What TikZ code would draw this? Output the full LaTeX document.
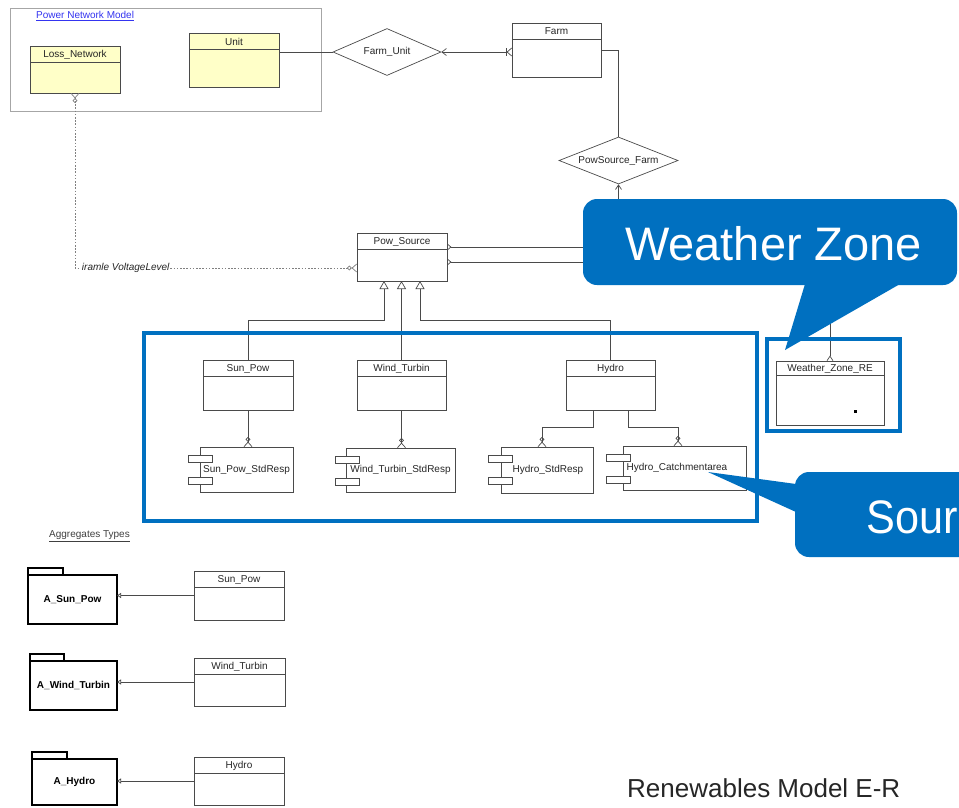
\documentclass[tikz,border=0pt]{standalone}
\usepackage{fontspec}
\setmainfont{Liberation Sans}
\usetikzlibrary{arrows.meta,shapes.geometric}
\definecolor{lgray}{HTML}{4A4A4A}
\definecolor{cblue}{HTML}{0070C0}
\definecolor{lyellow}{HTML}{FFFFC8}
\definecolor{pnblue}{HTML}{3434F0}
\newcommand\us{\textunderscore}
\tikzset{
  ln/.style={draw=lgray, line width=0.7pt},
  dotln/.style={draw=gray, line width=0.7pt, dash pattern=on 1.6pt off 1.6pt},
  lbl/.style={font=\fontsize{10}{12}\selectfont, text=black!85, inner sep=0pt},
  boxst/.style={draw=lgray, line width=0.7pt, inner sep=0pt, outer sep=0pt},
  pkgst/.style={draw=black, line width=1.4pt, inner sep=0pt, outer sep=0pt, fill=white},
  dia/.style={diamond, draw=lgray, line width=0.7pt, inner sep=0pt, aspect=2.3, font=\fontsize{10}{12}\selectfont, text=black!85, fill=white},
  zcrow/.style={-{Circle[open,length=4.5pt] Straight Barb[reversed,length=4.5pt,width=8pt]}},
  gentip/.style={-{Triangle[open,length=8pt,width=9pt]}},
  aggtip/.style={-{Triangle[open,length=4pt,width=5pt]}},
  callout/.style={font=\fontsize{47}{52}\selectfont, text=white, inner sep=0pt}
}
% name, x1, y1, x2, y2, divider y, label, fill
\newcommand\clsbox[8]{%
  \node[boxst, fill=#8, anchor=north west, minimum width={#4-#2}, minimum height={#5-#3}] (#1) at (#2,#3) {};
  \draw[ln] (#2,#6) -- (#4,#6);
  \node[lbl] (#1t) at ({(#2+#4)/2},{(#3+#6)/2+0.5}) {#7};}
% name, x1, y1, x2, y2, label, small-rect centre x, label centre x
\newcommand\compbox[8]{%
  \node[boxst, fill=white, anchor=north west, minimum width={#4-#2}, minimum height={#5-#3}] (#1) at (#2,#3) {};
  \node[boxst, fill=white, minimum width=24, minimum height=7] (#1a) at (#7,{#3+11.5}) {};
  \node[boxst, fill=white, minimum width=24, minimum height=7] (#1b) at (#7,{#3+33.5}) {};
  \node[lbl] (#1t) at (#8,{(#3+#5)/2}) {#6};}
% name, x1, body top, x2, bottom, tab right, label
\newcommand\pkgbox[7]{%
  \node[pkgst, anchor=south west, minimum width={#6-#2}, minimum height=7] (#1tab) at (#2,#3) {};
  \node[pkgst, anchor=north west, minimum width={#4-#2}, minimum height={#5-#3}] (#1) at (#2,#3) {};
  \node[lbl, font=\fontsize{10}{12}\selectfont\bfseries, text=black] (#1t) at (#1.center) {#7};}
\begin{document}
\begin{tikzpicture}[x=1pt,y=-1pt]
\useasboundingbox (0,0) rectangle (959,807);
\fill[white] (0,0) rectangle (959,807);

% Power Network Model frame
\node[draw=gray!70, line width=0.6pt, anchor=north west, minimum width=311, minimum height=103, inner sep=0pt] (pnm) at (10,8) {};
\node[lbl, text=pnblue, anchor=west] (pnmt) at (36,16) {\underline{Power Network Model}};

% class boxes
\clsbox{loss}{30}{46}{120}{93}{62}{Loss\us Network}{lyellow}
\clsbox{unit}{189}{33}{279}{87}{49}{Unit}{lyellow}
\clsbox{farm}{512}{23}{601}{77}{39}{Farm}{white}
\clsbox{pow}{357}{233}{447}{281}{249}{Pow\us Source}{white}
\clsbox{sun}{203}{360}{293}{410}{376}{Sun\us Pow}{white}
\clsbox{wt}{357}{360}{446}{410}{376}{Wind\us Turbin}{white}
\clsbox{hy}{566}{360}{655}{410}{376}{Hydro}{white}
\clsbox{wz}{776}{361}{884}{425}{375}{Weather\us Zone\us RE}{white}

% diamonds
\node[dia, minimum width=108, minimum height=47] (fu) at (387,52) {Farm\us Unit};
\node[dia, minimum width=119, minimum height=47] (psf) at (618.5,160.5) {PowSource\us Farm};

% component boxes
\compbox{sunr}{200}{447}{293}{492}{Sun\us Pow\us StdResp}{200.5}{246.5}
\compbox{wtr}{346}{448}{455}{492}{Wind\us Turbin\us StdResp}{347}{400.5}
\compbox{hsr}{501}{447}{593}{493}{Hydro\us StdResp}{500}{548}
\compbox{hcr}{623}{446}{746}{490}{Hydro\us Catchmentarea}{618}{677}

% connectors, top part
\draw[ln, {Bar[width=7pt]}-] (unit.east |- fu.west) -- (fu.west);
\draw[ln, {Straight Barb[reversed,length=4.5pt,width=8pt] Bar[width=8pt]}-{Straight Barb[length=4.5pt,width=7pt]}] (farm.west |- fu.east) -- (fu.east);
\draw[ln, {Bar[width=7pt]}-] (farm.east) -| (psf.north);
\draw[ln, {Straight Barb[reversed,length=3.5pt,width=6pt]}-{Straight Barb[length=4.5pt,width=6pt]}] ([yshift=10pt]pow.east) -| (psf.south);
\draw[ln, {Straight Barb[reversed,length=3.5pt,width=6pt]}-{Straight Barb[reversed,length=4.5pt,width=6pt]}] ([yshift=-5pt]pow.east) -| (wz.north);

% dotted link Loss_Network - Pow_Source
\draw[dotln, {Straight Barb[reversed,length=4.5pt,width=8pt] Circle[open,length=4.5pt]}-{Circle[open,length=4.5pt] Straight Barb[reversed,length=4.5pt,width=8pt]}]
  (loss.south) |- ([yshift=-11pt]pow.west)
  node[lbl, pos=0.51, anchor=west, fill=white, inner xsep=1pt, font=\fontsize{10}{12}\selectfont\itshape] (vl) {iramle VoltageLevel};

% generalisation
\draw[ln, gentip] (sun.north) -- ++(0,-40) -| ([xshift=-18pt]pow.south);
\draw[ln, gentip] (wt.north) -- (wt.north |- pow.south);
\draw[ln, gentip] (hy.north) -- ++(0,-40) -| ([xshift=18pt]pow.south);

% class to component
\draw[ln, zcrow] (sun.south) -- (sun.south |- sunr.north);
\draw[ln, zcrow] (wt.south) -- (wt.south |- wtr.north);
\draw[ln, zcrow] ([xshift=-17pt]hy.south) -- ++(0,17) -| ([xshift=-5pt]hsr.north);
\draw[ln, zcrow] ([xshift=18pt]hy.south) -- ++(0,17) -| ([xshift=-6.5pt]hcr.north);

% small mark in Weather_Zone_RE
\fill[black] (854,410) rectangle (857,413);

% Aggregates Types
\node[lbl, text=black!75, anchor=west] (aggt) at (49,536) {\underline{Aggregates Types}};
\pkgbox{asp}{28}{575}{117}{624}{63}{A\us Sun\us Pow}
\pkgbox{awt}{30}{661}{117}{710}{64}{A\us Wind\us Turbin}
\pkgbox{ahy}{32}{759}{117}{805}{67}{A\us Hydro}
\clsbox{sp2}{194}{571}{284}{620}{587}{Sun\us Pow}{white}
\clsbox{wt2}{194}{658}{285}{706}{674}{Wind\us Turbin}{white}
\clsbox{hy2}{194}{757}{284}{805}{773}{Hydro}{white}
\draw[ln, aggtip] (sp2.west) -- (asp.east |- sp2.west);
\draw[ln, aggtip] (wt2.west) -- (awt.east |- wt2.west);
\draw[ln, aggtip] (hy2.west) -- (ahy.east |- hy2.west);

% blue highlight frames
\draw[cblue, line width=4pt] (144,333) rectangle (757,521);
\draw[cblue, line width=4pt] (767,339) rectangle (900,431);

% callouts
\begin{scope}
\clip (0,0) rectangle (959,807);
\fill[cblue, rounded corners=14pt] (583,199) rectangle (957,285);
\fill[cblue] (805,284) -- (785,350) -- (900,284) -- cycle;
\node[callout, anchor=base] (wzc) at (773.5,260) {Weather Zone};
\fill[cblue, rounded corners=14pt] (962,472) -- (795,472) -- (795,557) -- (962,557);
\fill[cblue] (708,472) -- (796,484) -- (796,512) -- cycle;
\node[callout, anchor=base west, xscale=0.92] (src) at (866,533) {Sour};
\end{scope}

% caption
\node[font=\fontsize{26}{30}\selectfont, text=black!85, anchor=base west, inner sep=0pt] (cap) at (627,797) {Renewables Model E-R};
\end{tikzpicture}
\end{document}
